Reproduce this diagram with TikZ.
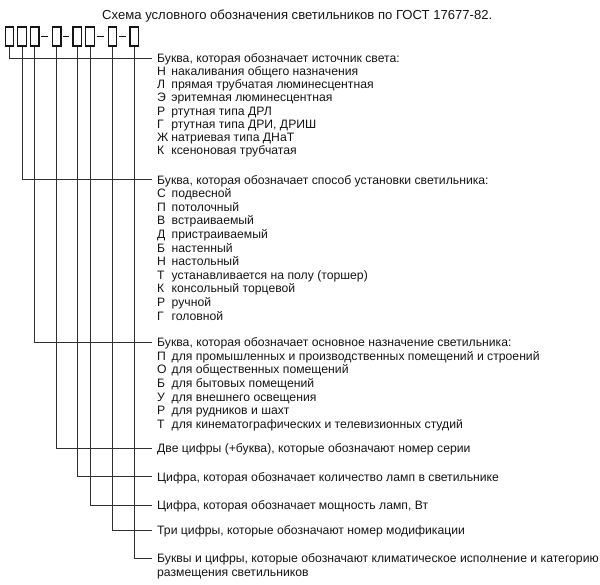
\documentclass[tikz,border=0pt]{standalone}
\usepackage{fontspec}
\setmainfont{Liberation Sans}
\definecolor{ink}{HTML}{151515}
\definecolor{wire}{HTML}{303030}
\begin{document}
\begin{tikzpicture}[x=1pt,y=-1pt,
  font=\fontsize{12.2}{13}\selectfont, text=ink,
  cell/.style={draw=ink, line width=1.3pt, minimum width=8.5pt, minimum height=19pt, inner sep=0pt},
  hdr/.style={anchor=west, inner xsep=5pt, inner ysep=0pt, text height=8.8pt, text depth=0pt},
  itm/.style={anchor=base west, inner sep=0pt},
  wirel/.style={draw=wire, line width=0.9pt},
  dashl/.style={draw=ink, line width=1.2pt, shorten <=1.8pt, shorten >=3.5pt}]
\useasboundingbox (0,0) rectangle (600,585);
% title
\node[itm, font=\fontsize{13.1}{14}\selectfont] (title) at (102,19.7) {Схема условного обозначения светильников по ГОСТ 17677-82.};
% boxes
\node[cell] (b1) at (9.5,36.5) {};
\node[cell] (b2) at (22,36.5) {};
\node[cell] (b3) at (34.7,36.5) {};
\node[cell] (b4) at (56.7,36.5) {};
\node[cell] (b5) at (77.3,36.5) {};
\node[cell] (b6) at (90,36.5) {};
\node[cell] (b7) at (112.5,36.5) {};
\node[cell] (b8) at (134.3,36.5) {};
\draw[dashl] (b3) -- (b4);
\draw[dashl] (b4) -- (b5);
\draw[dashl] (b6) -- (b7);
\draw[dashl] (b7) -- (b8);
% headers
\node[hdr] (h1) at (152,58.3) {Буква, которая обозначает источник света:};
\node[hdr] (h2) at (152,179.8) {Буква, которая обозначает способ установки светильника:};
\node[hdr] (h3) at (152,342) {Буква, которая обозначает основное назначение светильника:};
\node[hdr] (h4) at (152,448.5) {Две цифры (+буква), которые обозначают номер серии};
\node[hdr] (h5) at (152,476.8) {Цифра, которая обозначает количество ламп в светильнике};
\node[hdr] (h6) at (152,505) {Цифра, которая обозначает мощность ламп, Вт};
\node[hdr] (h7) at (152,530.5) {Три цифры, которые обозначают номер модификации};
\node[hdr] (h8) at (152,558.3) {Буквы и цифры, которые обозначают климатическое исполнение и категорию};
\node[itm] (h8b) at (157,576) {размещения светильников};
% item lists
\foreach \l/\t [count=\i] in {Н/накаливания общего назначения, Л/прямая трубчатая люминесцентная, Э/эритемная люминесцентная, Р/ртутная типа ДРЛ, Г/{ртутная типа ДРИ, ДРИШ}, Ж/натриевая типа ДНаТ, К/ксеноновая трубчатая}
  \node[itm] (ga\i) at (157,{58.3+4.4+13.1*\i}) {\makebox[14.2pt][l]{\l}\t};
\foreach \l/\t [count=\i] in {С/подвесной, П/потолочный, В/встраиваемый, Д/пристраиваемый, Б/настенный, Н/настольный, Т/устанавливается на полу (торшер), К/консольный торцевой, Р/ручной, Г/головной}
  \node[itm] (gb\i) at (157,{179.8+4.4+13.6*\i}) {\makebox[14.5pt][l]{\l}\t};
\foreach \l/\t [count=\i] in {П/для промышленных и производственных помещений и строений, О/для общественных помещений, Б/для бытовых помещений, У/для внешнего освещения, Р/для рудников и шахт, Т/для кинематографических и телевизионных студий}
  \node[itm] (gc\i) at (157,{342+4.4+13.7*\i}) {\makebox[14.5pt][l]{\l}\t};
% connectors
\draw[wirel] (b1.south) |- (h1.west);
\draw[wirel] (b2.south) |- (h2.west);
\draw[wirel] (b3.south) |- (h3.west);
\draw[wirel] (b4.south) |- (h4.west);
\draw[wirel] (b5.south) |- (h5.west);
\draw[wirel] (b6.south) |- (h6.west);
\draw[wirel] (b7.south) |- (h7.west);
\draw[wirel] (b8.south) |- (h8.west);
\end{tikzpicture}
\end{document}
